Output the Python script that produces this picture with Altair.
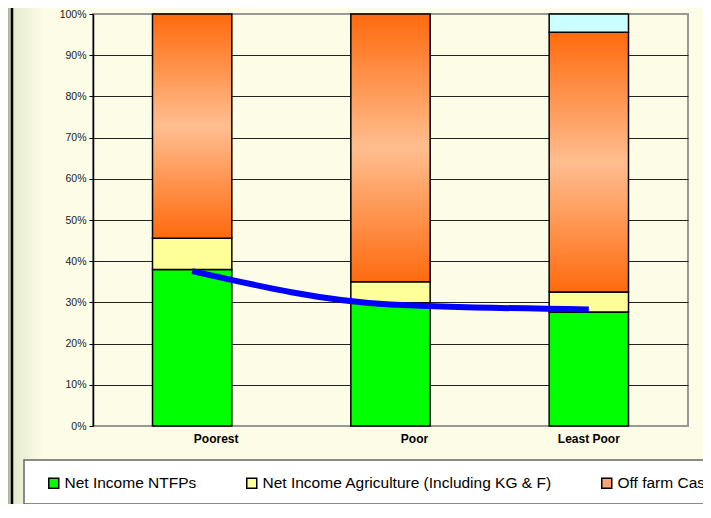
import altair as alt
import pandas as pd

groups = ["Poorest", "Poor", "Least Poor"]
series = [
    "Net Income NTFPs",
    "Net Income Agriculture (Including KG & F)",
    "Off farm Cash Income",
    "Other Income",
]
ntfp = [38.0, 29.9, 27.7]
agri = [7.6, 5.1, 4.8]
offfarm = [54.4, 65.0, 63.1]
other = [0.0, 0.0, 4.4]
trend = [37.6, 29.5, 28.3]
colors = ["#00FF00", "#FFFF99", "#FFA477", "#CCFFFF"]
y_ticks = [0, 10, 20, 30, 40, 50, 60, 70, 80, 90, 100]

rows = []
for si, (s, vals) in enumerate(zip(series, [ntfp, agri, offfarm, other])):
    for g, v in zip(groups, vals):
        if v > 0:
            rows.append({"group": g, "series": s, "value": v, "order": si})
df = pd.DataFrame(rows)
line_df = pd.DataFrame({"group": groups, "value": trend})

orange_grad = {
    "gradient": "linear", "x1": 0, "x2": 0, "y1": 0, "y2": 1,
    "stops": [
        {"offset": 0, "color": "#FF6A0E"},
        {"offset": 0.5, "color": "#FFBE90"},
        {"offset": 1, "color": "#FF6A0E"},
    ],
}
strip_grad = {
    "gradient": "linear", "x1": 0, "x2": 1, "y1": 0, "y2": 0,
    "stops": [{"offset": 0, "color": "#9AAA8A"}, {"offset": 1, "color": "#C8D1B8"}],
}
inner_grad = {
    "gradient": "linear", "x1": 0, "x2": 1, "y1": 0, "y2": 0,
    "stops": [{"offset": 0, "color": "#E4EAD0"}, {"offset": 1, "color": "#FDFCE6"}],
}

one = alt.Data(values=[{}])

legend_box = alt.Chart(one).mark_rect(fill="white", stroke="#666666", strokeWidth=1.5).encode(
    x=alt.value(-69), x2=alt.value(640), y=alt.value(446), y2=alt.value(490)
)
strip = alt.Chart(one).mark_rect(fill=strip_grad).encode(
    x=alt.value(-86), x2=alt.value(-82), y=alt.value(-6), y2=alt.value(492)
)
inner = alt.Chart(one).mark_rect(fill=inner_grad).encode(
    x=alt.value(-80), x2=alt.value(-50), y=alt.value(-6), y2=alt.value(492)
)
edge = alt.Chart(one).mark_rule(color="black", strokeWidth=2.5).encode(
    x=alt.value(-81), y=alt.value(-6), y2=alt.value(492)
)

bars = alt.Chart(df).mark_bar(stroke="black", strokeWidth=1.5).encode(
    x=alt.X(
        "group:N", sort=groups,
        scale=alt.Scale(paddingInner=0.6, paddingOuter=0.3),
        axis=alt.Axis(
            title=None, labelAngle=0, domain=False, ticks=False,
            labelFont="Liberation Sans", labelFontWeight="bold", labelFontSize=12,
            labelColor="black", labelPadding=7,
            labelOffset={"condition": {"test": "datum.value === 'Least Poor'", "value": 0}, "value": 24},
        ),
    ),
    y=alt.Y(
        "value:Q", stack="zero",
        scale=alt.Scale(domain=[0, 100], nice=False),
        axis=alt.Axis(
            values=y_ticks, labelExpr="datum.value + '%'", title=None,
            tickSize=4, tickColor="black", labelPadding=3,
            labelFont="Liberation Sans", labelFontSize=10.5, labelColor="#222222",
            domainColor="black", domainWidth=1.5,
            gridColor={"condition": {"test": "datum.value == 0 || datum.value == 100", "value": "#999999"}, "value": "#222222"},
            gridWidth=1,
        ),
    ),
    color=alt.condition(
        alt.datum.series == "Off farm Cash Income",
        alt.value(orange_grad),
        alt.Color(
            "series:N", sort=series,
            scale=alt.Scale(domain=series, range=colors),
            legend=alt.Legend(
                orient="none", legendX=-47, legendY=461, direction="horizontal",
                title=None, symbolType="square", symbolSize=100,
                symbolStrokeColor="black", symbolStrokeWidth=1.5,
                labelFont="Liberation Sans", labelFontSize=15.5, labelColor="black",
                labelOffset=3, labelLimit=500, columnPadding=46, padding=0,
            ),
        ),
    ),
    order=alt.Order("order:Q", sort="ascending"),
)

line = alt.Chart(line_df).mark_line(color="#0000FF", strokeWidth=6, interpolate="monotone").encode(
    x=alt.X("group:N", sort=groups),
    y=alt.Y("value:Q"),
)

chart = alt.layer(strip, inner, edge, legend_box, bars, line).properties(
    width=595, height=412,
    padding={"left": 85, "top": 6, "right": 15, "bottom": 78},
    autosize=alt.AutoSizeParams(type="none"),
    background="#FDFCE6",
).configure_view(stroke="#999999", strokeWidth=2)

chart.save("out.html", embed_options={"renderer": "svg", "actions": False})
